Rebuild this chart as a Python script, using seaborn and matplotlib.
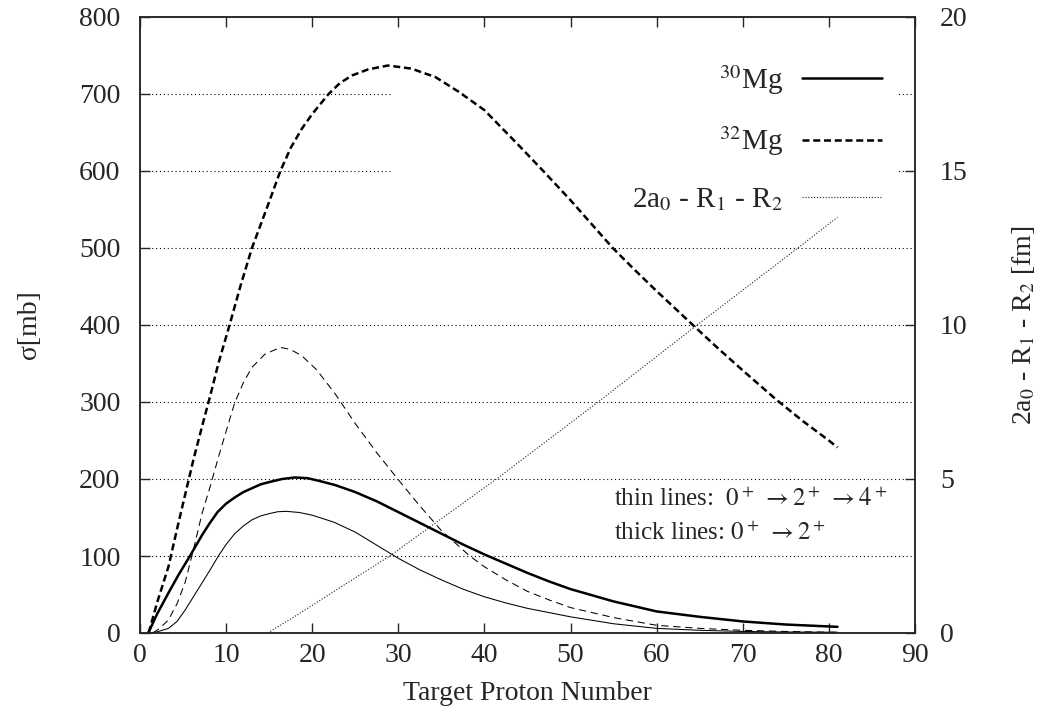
import numpy as np
import pandas as pd
import matplotlib
matplotlib.use("Agg")
import matplotlib.pyplot as plt
import seaborn as sns
from matplotlib.patches import Rectangle
from matplotlib.lines import Line2D

# ---- data ----
# 30Mg, 0+ -> 2+ (thick solid)
z_mg30_2 = [1, 2, 3.3, 4.5, 5.8, 7.2, 8, 9, 10, 11, 12, 13, 14, 15, 16.5, 18, 19.5, 21, 22.7, 25, 27.5, 30, 32.5, 35, 37.5, 40, 42.5, 45, 47.5, 50, 55, 60, 65, 70, 75, 80, 81]
s_mg30_2 = [1, 25, 52, 76, 100, 127, 141, 157, 168, 176, 183, 188, 193, 196, 200, 202, 201, 197, 192, 183, 171, 157, 143, 129, 115, 102, 90, 78, 67, 57, 41, 28, 21, 15, 11, 8.5, 8]
# 30Mg, 0+ -> 2+ -> 4+ (thin solid)
z_mg30_4 = [1, 2, 3.3, 4.3, 5.25, 6.2, 7.2, 8.2, 9.1, 10, 11, 12, 13, 14, 15, 16, 17, 18.5, 20, 22.5, 25, 27.5, 30, 32.5, 35, 37.5, 40, 42.5, 45, 50, 55, 60, 65, 70, 75, 80, 81]
s_mg30_4 = [0, 1.5, 6, 15, 30, 47, 65, 83, 100, 115, 129, 139, 147, 152, 155, 157.5, 158, 156.5, 153, 144, 131, 114, 97, 82, 69, 57, 47, 39, 32, 21, 12, 6, 3.5, 2, 1.3, 1, 1]
# 32Mg, 0+ -> 2+ (thick dashed)
z_mg32_2 = [1, 2, 3.3, 4.3, 5.25, 6.2, 7.2, 8.2, 9.1, 10.4, 11.7, 13, 14.9, 16.3, 17.5, 18.8, 20, 21.9, 23.2, 24.6, 26.5, 28.8, 31.5, 34.3, 37, 40, 44.1, 47, 50, 54.9, 57.5, 60, 64.2, 67, 70, 73.9, 77, 80, 81]
s_mg32_2 = [0, 40, 86, 135, 180, 225, 268, 310, 350, 400, 452, 500, 557, 600, 630, 655, 674, 700, 714, 724, 732, 737, 733, 722, 703, 679, 632, 598, 562, 500, 471, 444, 400, 371, 341, 303, 275, 250, 241]
# 32Mg, 0+ -> 2+ -> 4+ (thin dashed)
z_mg32_4 = [1.5, 2.3, 3.3, 4.3, 5.25, 6.2, 7.2, 8.2, 9.1, 10, 11, 12, 13, 14.5, 16.3, 17.5, 18.8, 20.5, 22.7, 25, 27.5, 30, 32.5, 35, 38.3, 40, 42.5, 45, 47.5, 50, 55, 60, 65, 70, 75, 80, 81]
s_mg32_4 = [0, 6, 17, 38, 66, 108, 155, 192, 228, 262, 299, 325, 345, 362, 371, 368, 360, 342, 310, 272, 234, 199, 165, 133, 100, 86, 69, 54, 43, 33, 20, 10, 6, 3.5, 2, 1, 1]
# 2a0 - R1 - R2 [fm] (right axis, dotted)
z_dist = [14.85, 18.6, 29.0, 41.4, 53.2, 64.7, 76.4, 81.0]
d_dist = [0, 0.65, 2.5, 5.0, 7.5, 10.0, 12.5, 13.5]

x_ticks = list(range(0, 91, 10))
y_ticks = list(range(0, 801, 100))
y2_ticks = list(range(0, 21, 5))

legend_labels = [r"$^{30}$Mg", r"$^{32}$Mg", r"2a$_0$ - R$_1$ - R$_2$"]
note_thin = r"thin lines:  $0^+\;\rightarrow 2^+\;\rightarrow 4^+$"
note_thick = r"thick lines: $0^+\;\rightarrow 2^+$"

# ---- style ----
sns.set_style("ticks")
plt.rcParams['font.family'] = ['Liberation Serif', 'DejaVu Serif']
plt.rcParams['mathtext.fontset'] = 'stix'
FS = 20

W, H = 1040, 724
fig = plt.figure(figsize=(W / 100, H / 100), dpi=100)
L, R, T, B = 140, 915, 17, 633
ax = fig.add_axes([L / W, 1 - B / H, (R - L) / W, (B - T) / H])
ax2 = ax.twinx()

thick = 1.8
thin = 0.75
dash_thick = (0, (2.8, 1.5))
dash_thin = (0, (7, 4.5))
dot_style = (0, (1, 1.6))

ax.set_axisbelow(True)
ax.grid(axis='y', linestyle=(0, (1, 2.5)), color='black', lw=0.8)
ax.grid(axis='x', visible=False)

# opaque key area (covers grid only)
ax.add_patch(Rectangle((29.4, 552), 58.4, 230, facecolor='white', edgecolor='none', zorder=1))

sns.lineplot(x=z_mg30_2, y=s_mg30_2, ax=ax, color='black', lw=thick, zorder=3)
sns.lineplot(x=z_mg30_4, y=s_mg30_4, ax=ax, color='black', lw=thin, zorder=3)
sns.lineplot(x=z_mg32_2, y=s_mg32_2, ax=ax, color='black', lw=thick, linestyle=dash_thick, zorder=3)
sns.lineplot(x=z_mg32_4, y=s_mg32_4, ax=ax, color='black', lw=thin, linestyle=dash_thin, zorder=3)
sns.lineplot(x=z_dist, y=d_dist, ax=ax2, color='#222222', lw=0.8, linestyle=dot_style)

ax.set_xlim(0, 90)
ax.set_ylim(0, 800)
ax2.set_ylim(0, 20)
ax.set_xticks(x_ticks)
ax.set_yticks(y_ticks)
ax2.set_yticks(y2_ticks)

for a in (ax, ax2):
    for s in a.spines.values():
        s.set_linewidth(1.1)
        s.set_visible(True)
ax.tick_params(axis='x', direction='in', length=7, width=1, top=True, bottom=True,
               labelsize=FS, pad=7)
ax.tick_params(axis='y', direction='in', length=7, width=1, left=True, right=False,
               labelsize=FS, pad=14)
ax2.tick_params(axis='y', direction='in', length=7, width=1, left=False, right=True,
                labelsize=FS, pad=18)

ax.set_xlabel("Target Proton Number", fontsize=FS)
ax.set_ylabel("σ[mb]", fontsize=FS)
ax2.set_ylabel(r"2a$_0$ - R$_1$ - R$_2$ [fm]", fontsize=FS)
ax.xaxis.set_label_coords(0.5, -0.078)
ax.yaxis.set_label_coords(-0.127, 0.5)
ax2.yaxis.set_label_coords(1.122, 0.5)

handles = [Line2D([], [], color='black', lw=thick),
           Line2D([], [], color='black', lw=thick, linestyle=dash_thick),
           Line2D([], [], color='#222222', lw=0.8, linestyle=dot_style)]
leg = ax.legend(handles, legend_labels, loc='upper right',
                bbox_to_anchor=((882 - L) / (R - L), 1 - (63 - T) / (B - T)),
                markerfirst=False, frameon=False, fontsize=21, handlelength=2.74,
                handletextpad=0.65, labelspacing=0.95, borderaxespad=0, borderpad=0)

ax.text(55.1, 173, note_thin, fontsize=18, va='center', ha='left')
ax.text(55.1, 130, note_thick, fontsize=18, va='center', ha='left')

fig.savefig("out.png", dpi=100)
